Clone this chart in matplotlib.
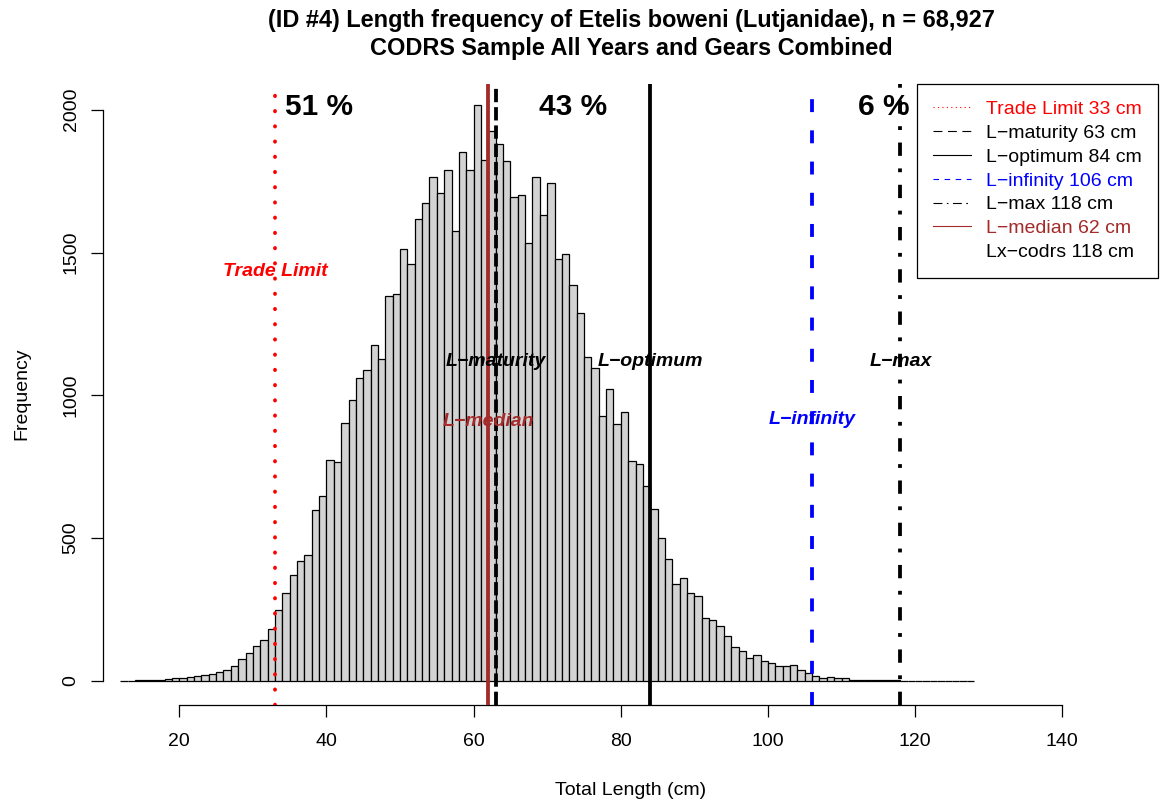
import matplotlib
matplotlib.use("Agg")
import matplotlib.pyplot as plt
from matplotlib.lines import Line2D
import numpy as np

plt.rcParams['font.family'] = ['Liberation Sans', 'DejaVu Sans']

# ---------------- data ----------------
bin_lefts = list(range(12, 128))          # 1-cm bins, 12 .. 127
counts = [
    0, 0, 2, 2, 3, 4, 6, 9, 12, 14, 18, 20, 23, 30, 40, 51,          # 12-27
    76, 97, 123, 144, 182, 247, 308, 370, 420, 440,                   # 28-37
    599, 646, 774, 768, 902, 984, 1060, 1089, 1176, 1129,             # 38-47
    1349, 1354, 1512, 1461, 1618, 1673, 1764, 1710, 1790, 1575,       # 48-57
    1853, 1790, 2015, 1825, 1924, 1881, 1821, 1694, 1702, 1533,       # 58-67
    1764, 1631, 1743, 1479, 1494, 1387, 1287, 1134, 1095, 926,        # 68-77
    1023, 899, 943, 769, 759, 684, 601, 500, 428, 339,                # 78-87
    360, 307, 297, 219, 214, 191, 158, 120, 106, 82,                  # 88-97
    92, 69, 64, 54, 54, 55, 39, 29, 19, 9,                            # 98-107
    15, 12, 10, 3, 3, 4, 4, 3, 2, 5,                                  # 108-117
    0, 0, 0, 0, 0, 0, 0, 0, 0, 0,                                     # 118-127
]

ref_names = ['Trade Limit', 'L\u2212maturity', 'L\u2212optimum', 'L\u2212infinity', 'L\u2212max', 'L\u2212median']
ref_values = [33, 63, 84, 106, 118, 62]
codrs_name = 'Lx\u2212codrs'
codrs_value = 118

pct_labels = ['51 %', '43 %', '6 %']

x_ticks = [20, 40, 60, 80, 100, 120, 140]
y_ticks = [0, 500, 1000, 1500, 2000]

title1 = '(ID #4) Length frequency of Etelis boweni (Lutjanidae), n = 68,927'
title2 = 'CODRS Sample All Years and Gears Combined'

# ---------------- styles ----------------
ref_colors = ['red', 'black', 'black', 'blue', 'black', 'brown']
main_styles = [(0, (0.1, 3.9)), (0, (3.5, 1.3)), '-', (0, (3.4, 4.8)), (0, (3.5, 3.3, 1.0, 3.3)), '-']
main_caps = ['round', 'butt', 'butt', 'butt', 'butt', 'butt']
legend_styles = [(0, (1, 3)), (0, (8, 5)), '-', (0, (5, 5)), (0, (8, 4, 1.5, 4)), '-']

# label placement (data coords)
label_y = [1435, 1120, 1120, 915, 1120, 910]
pct_x = [39.0, 73.5, 115.8]
pct_y = 2009

# ---------------- figure ----------------
W, H = 1161, 805
fig = plt.figure(figsize=(W / 100, H / 100), dpi=100)
left_px, right_px, top_px, bottom_px = 103.3, 1158, 84, 704.5
ax = fig.add_axes([left_px / W, 1 - bottom_px / H,
                   (right_px - left_px) / W, (bottom_px - top_px) / H])

ax.bar(bin_lefts, counts, width=1.0, align='edge', color='#D3D3D3',
       edgecolor='black', linewidth=0.9, zorder=2)

for v, c, ls, cap in zip(ref_values, ref_colors, main_styles, main_caps):
    ln = ax.axvline(v, color=c, linewidth=2.74, linestyle=ls, zorder=3)
    ln.set_dash_capstyle(cap)
    ln.set_solid_capstyle('butt')

for name, v, c, yy in zip(ref_names, ref_values, ref_colors, label_y):
    ax.text(v, yy, name, color=c, fontsize=14, fontweight='bold', fontstyle='italic',
            ha='center', va='center', zorder=4)

for t, xx in zip(pct_labels, pct_x):
    ax.text(xx, pct_y, t, fontsize=21.5, fontweight='bold', ha='center', va='center', zorder=4)

ax.set_xlim(9.671, 153.01)
ax.set_ylim(-82.3, 2090)

for s in ['top', 'right']:
    ax.spines[s].set_visible(False)
ax.spines['bottom'].set_bounds(x_ticks[0], x_ticks[-1])
ax.spines['left'].set_bounds(y_ticks[0], y_ticks[-1])
ax.spines['bottom'].set_linewidth(0.9)
ax.spines['left'].set_linewidth(0.9)

ax.set_xticks(x_ticks)
ax.set_yticks(y_ticks)
ax.set_xticklabels([str(v) for v in x_ticks])
ax.set_yticklabels([str(v) for v in y_ticks])
ax.tick_params(axis='both', length=8.4, width=0.9, labelsize=14)
ax.tick_params(axis='x', pad=12.0)
ax.tick_params(axis='y', pad=8.7, labelrotation=90)
for lab in ax.get_yticklabels():
    lab.set_va('center')

fig.text(631 / W, 1 - 790 / H, 'Total Length (cm)', fontsize=14, ha='center', va='center')
fig.text(21.7 / W, 1 - 394 / H, 'Frequency', fontsize=14, ha='center', va='center', rotation=90)
fig.text(631 / W, 1 - 20 / H, title1, fontsize=16.9, fontweight='bold', ha='center', va='center')
fig.text(631 / W, 1 - 48 / H, title2, fontsize=16.9, fontweight='bold', ha='center', va='center')

# legend
handles = [Line2D([], [], color=c, linewidth=0.8, linestyle=ls)
           for c, ls in zip(ref_colors, legend_styles)]
handles.append(Line2D([], [], linestyle='none'))
leg_labels = ['%s %d cm' % (n, v) for n, v in zip(ref_names, ref_values)]
leg_labels.append('%s %d cm' % (codrs_name, codrs_value))
leg = ax.legend(handles, leg_labels, loc='upper right', bbox_to_anchor=(1, 1),
                borderaxespad=0, frameon=True, fancybox=False, edgecolor='black',
                framealpha=1, fontsize=14, handlelength=1.95, handletextpad=0.75,
                labelspacing=0.32, borderpad=0.85,
                labelcolor=ref_colors + ['black'])
leg.get_frame().set_linewidth(0.9)
leg.set_zorder(5)

fig.savefig('out.png', dpi=100)
